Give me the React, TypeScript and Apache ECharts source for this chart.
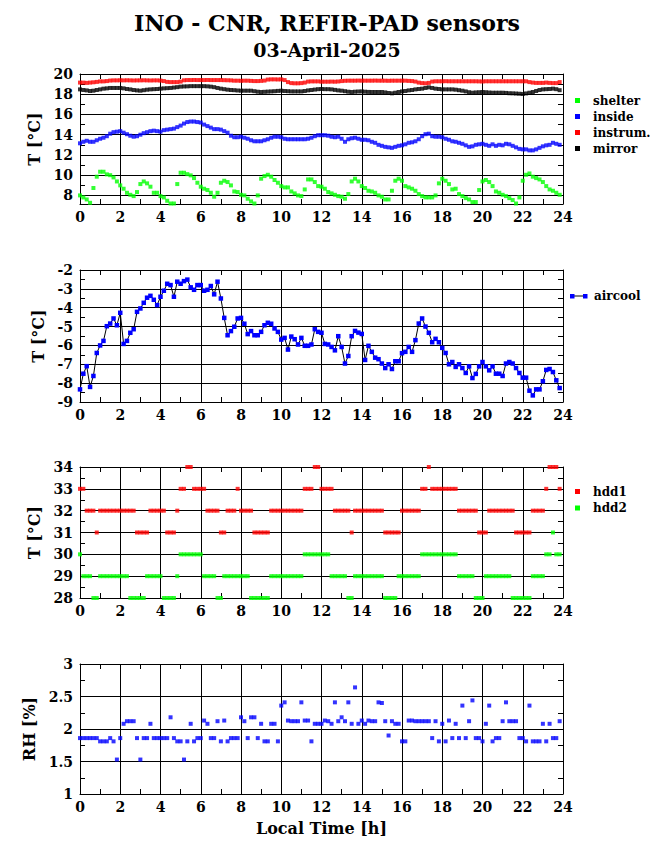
import React, { useEffect, useRef } from 'react';
import * as echarts from 'echarts';

// 10-minute sampling over the day (hours)
const HOURS: number[] = Array.from({ length: 144 }, (_, i) => i / 6);

const X_TICKS = [0, 2, 4, 6, 8, 10, 12, 14, 16, 18, 20, 22, 24];

// Panel 1: temperatures [°C]
const shelter = [
  8.0, 7.8, 7.6, 7.27, 8.73, 9.85, 10.34, 10.34, 10.08, 10.0,
  9.78, 9.38, 8.99, 8.66, 8.26, 8.06, 7.93, 8.33, 9.12, 9.38,
  9.19, 8.86, 8.26, 8.26, 7.93, 7.8, 7.47, 7.2, 7.2, 9.12,
  10.24, 10.24, 10.1, 9.98, 9.71, 9.25, 8.86, 8.66, 8.53, 8.26,
  7.87, 8.26, 9.25, 9.45, 9.32, 8.99, 8.39, 8.33, 8.06, 8.0,
  7.67, 7.41, 7.2, 8.0, 9.65, 9.91, 10.04, 9.85, 9.52, 9.25,
  8.92, 8.79, 8.79, 8.39, 8.2, 8.0, 7.93, 8.59, 9.58, 9.58,
  9.32, 8.92, 8.86, 8.66, 8.33, 8.2, 8.06, 7.93, 7.87, 7.67,
  8.13, 9.38, 9.65, 9.38, 8.92, 8.73, 8.46, 8.39, 8.26, 8.0,
  7.87, 7.6, 7.6, 8.46, 9.45, 9.65, 9.45, 8.92, 8.79, 8.66,
  8.46, 8.13, 7.93, 7.8, 7.8, 7.8, 8.0, 9.19, 9.65, 9.45,
  9.12, 8.59, 8.66, 8.13, 7.93, 7.73, 7.6, 7.34, 7.34, 8.53,
  9.38, 9.52, 9.32, 8.92, 8.39, 8.26, 8.06, 7.93, 7.73, 7.54,
  7.2, 7.8, 9.45, 10.04, 10.17, 9.85, 9.71, 9.58, 9.32, 8.92,
  8.59, 8.46, 8.26, 8.06,
];

const inside = [
  13.15, 13.3, 13.4, 13.3, 13.3, 13.45, 13.6, 13.7, 13.85, 14.1,
  14.25, 14.3, 14.35, 14.2, 14.05, 13.9, 13.8, 13.85, 14.0, 14.15,
  14.25, 14.35, 14.4, 14.35, 14.3, 14.45, 14.5, 14.55, 14.6, 14.75,
  14.9, 15.1, 15.25, 15.3, 15.3, 15.25, 15.2, 15.0, 14.85, 14.7,
  14.55, 14.55, 14.5, 14.35, 14.2, 13.9, 13.75, 13.75, 13.8, 13.7,
  13.6, 13.45, 13.35, 13.35, 13.35, 13.45, 13.55, 13.7, 13.8, 13.8,
  13.75, 13.6, 13.55, 13.55, 13.55, 13.55, 13.55, 13.55, 13.6, 13.7,
  13.85, 13.95, 13.95, 13.95, 13.9, 13.8, 13.75, 13.8, 13.6, 13.3,
  13.55, 13.65, 13.7, 13.6, 13.5, 13.5, 13.45, 13.3, 13.2, 13.0,
  12.9, 12.8, 12.75, 12.7, 12.8, 12.9, 12.95, 13.05, 13.2, 13.25,
  13.35, 13.55, 13.85, 14.05, 14.1, 13.85, 13.8, 13.8, 13.75, 13.6,
  13.5, 13.35, 13.3, 13.2, 13.1, 12.95, 12.8, 12.85, 13.0, 13.05,
  13.1, 13.0, 12.9, 13.05, 12.9, 13.0, 12.95, 13.1, 13.05, 12.9,
  12.75, 12.6, 12.55, 12.55, 12.45, 12.45, 12.55, 12.7, 12.85, 12.95,
  13.0, 13.2, 13.1, 13.0,
];

const instrum = [
  19.15, 19.15, 19.12, 19.15, 19.18, 19.22, 19.27, 19.27, 19.3, 19.35,
  19.37, 19.37, 19.38, 19.37, 19.38, 19.37, 19.36, 19.37, 19.37, 19.38,
  19.37, 19.36, 19.37, 19.37, 19.35, 19.3, 19.22, 19.2, 19.2, 19.2,
  19.25, 19.38, 19.4, 19.4, 19.41, 19.4, 19.4, 19.4, 19.41, 19.4,
  19.4, 19.4, 19.4, 19.39, 19.38, 19.37, 19.34, 19.34, 19.33, 19.34,
  19.34, 19.32, 19.3, 19.3, 19.32, 19.35, 19.45, 19.47, 19.47, 19.46,
  19.47, 19.4, 19.2, 19.1, 19.08, 19.08, 19.1, 19.15, 19.25, 19.27,
  19.27, 19.27, 19.24, 19.24, 19.24, 19.25, 19.24, 19.26, 19.3, 19.33,
  19.34, 19.34, 19.34, 19.35, 19.34, 19.34, 19.34, 19.34, 19.35, 19.34,
  19.34, 19.34, 19.33, 19.34, 19.34, 19.34, 19.34, 19.34, 19.32, 19.3,
  19.25, 19.15, 19.1, 19.08, 19.12, 19.25, 19.28, 19.28, 19.28, 19.29,
  19.28, 19.28, 19.28, 19.28, 19.28, 19.28, 19.28, 19.28, 19.28, 19.27,
  19.26, 19.28, 19.28, 19.28, 19.28, 19.28, 19.28, 19.28, 19.28, 19.28,
  19.28, 19.28, 19.28, 19.28, 19.2, 19.15, 19.12, 19.12, 19.12, 19.15,
  19.12, 19.1, 19.1, 19.2,
];

const mirror = [
  18.48, 18.42, 18.38, 18.32, 18.35, 18.42, 18.48, 18.55, 18.58, 18.62,
  18.62, 18.62, 18.62, 18.58, 18.52, 18.48, 18.42, 18.38, 18.35, 18.4,
  18.45, 18.48, 18.5, 18.52, 18.55, 18.58, 18.6, 18.62, 18.66, 18.7,
  18.75, 18.77, 18.78, 18.8, 18.8, 18.8, 18.8, 18.8, 18.78, 18.75,
  18.7, 18.62, 18.55, 18.5, 18.45, 18.42, 18.4, 18.37, 18.35, 18.35,
  18.35, 18.35, 18.3, 18.25, 18.22, 18.24, 18.26, 18.28, 18.3, 18.33,
  18.35, 18.32, 18.3, 18.28, 18.28, 18.28, 18.28, 18.32, 18.38, 18.42,
  18.46, 18.5, 18.52, 18.5, 18.5, 18.48, 18.43, 18.38, 18.35, 18.3,
  18.25, 18.22, 18.25, 18.27, 18.28, 18.25, 18.23, 18.22, 18.22, 18.22,
  18.22, 18.18, 18.12, 18.09, 18.15, 18.22, 18.28, 18.32, 18.38, 18.42,
  18.48, 18.52, 18.55, 18.62, 18.68, 18.62, 18.55, 18.52, 18.48, 18.48,
  18.48, 18.48, 18.45, 18.4, 18.35, 18.28, 18.2, 18.15, 18.18, 18.2,
  18.22, 18.2, 18.17, 18.15, 18.15, 18.15, 18.15, 18.13, 18.1, 18.09,
  18.07, 18.05, 18.02, 18.08, 18.15, 18.22, 18.32, 18.42, 18.48, 18.5,
  18.52, 18.55, 18.5, 18.4,
];

// Panel 2: aircool [°C]
const aircool = [
  -8.33, -7.5, -7.1, -8.2, -7.62, -6.4, -6.0, -5.76, -4.98, -4.84,
  -4.57, -4.93, -4.27, -5.92, -5.76, -5.33, -5.14, -4.22, -4.04, -3.74,
  -3.47, -3.37, -3.58, -3.86, -3.42, -3.1, -2.73, -2.8, -3.42, -2.62,
  -2.73, -2.59, -2.51, -2.92, -3.05, -2.8, -2.8, -3.1, -3.05, -2.85,
  -3.29, -2.62, -3.51, -4.54, -5.46, -5.24, -5.01, -4.57, -4.54, -4.85,
  -5.4, -5.24, -5.46, -5.46, -5.28, -4.93, -4.8, -4.85, -5.1, -5.28,
  -5.69, -5.6, -6.22, -5.53, -5.67, -5.95, -5.6, -6.02, -6.02, -5.95,
  -5.14, -5.28, -5.33, -5.92, -5.95, -6.08, -6.26, -5.51, -6.08, -6.96,
  -6.56, -5.51, -5.23, -5.32, -5.39, -6.77, -6.02, -6.34, -6.65, -6.73,
  -6.96, -7.2, -7.0, -7.25, -6.84, -6.84, -6.41, -6.34, -6.08, -6.34,
  -5.72, -4.84, -4.57, -5.0, -5.33, -5.83, -5.65, -5.83, -6.13, -6.4,
  -7.0, -6.88, -7.14, -7.0, -7.2, -7.46, -7.11, -7.73, -7.51, -7.11,
  -6.88, -7.11, -7.32, -7.11, -7.5, -7.5, -7.62, -6.96, -6.88, -6.96,
  -7.2, -7.46, -7.71, -7.71, -8.4, -8.65, -8.33, -8.33, -7.9, -7.3,
  -7.25, -7.41, -7.85, -8.26,
];

// Panel 3: disk temperatures [°C]
const hdd1 = [
  33, 33, 32, 32, 32, 31, 32, 32, 32, 32,
  32, 32, 32, 32, 32, 32, 32, 31, 31, 31,
  31, 32, 32, 32, 32, 32, 31, 31, 31, 32,
  33, 33, 34, 34, 33, 33, 33, 33, 32, 32,
  32, 32, 31, 31, 32, 32, 32, 33, 32, 32,
  32, 32, 31, 31, 31, 31, 31, 32, 32, 32,
  32, 32, 32, 32, 32, 32, 32, 33, 33, 33,
  34, 34, 33, 33, 33, 33, 32, 32, 32, 32,
  32, 31, 32, 32, 32, 32, 32, 32, 32, 32,
  32, 31, 31, 31, 31, 31, 32, 32, 32, 32,
  32, 32, 33, 33, 34, 33, 33, 33, 33, 33,
  33, 33, 33, 32, 32, 32, 32, 32, 32, 31,
  31, 31, 32, 32, 32, 32, 32, 32, 32, 32,
  31, 31, 31, 31, 31, 32, 32, 32, 32, 33,
  34, 34, 34, 33,
];

const hdd2 = [
  30, 29, 29, 29, 28, 28, 29, 29, 29, 29,
  29, 29, 29, 29, 29, 28, 28, 28, 28, 28,
  29, 29, 29, 29, 29, 28, 28, 28, 28, 29,
  30, 30, 30, 30, 30, 30, 30, 29, 29, 29,
  29, 28, 28, 29, 29, 29, 29, 29, 29, 29,
  29, 28, 28, 28, 28, 28, 28, 29, 29, 29,
  29, 29, 29, 29, 29, 29, 29, 30, 30, 30,
  30, 30, 30, 30, 30, 29, 29, 29, 29, 29,
  28, 28, 29, 29, 29, 29, 29, 29, 29, 29,
  29, 28, 28, 28, 28, 29, 29, 29, 29, 29,
  29, 29, 30, 30, 30, 30, 30, 30, 30, 30,
  30, 30, 30, 29, 29, 29, 29, 29, 28, 28,
  28, 29, 29, 29, 29, 29, 29, 29, 29, 28,
  28, 28, 28, 28, 28, 29, 29, 29, 29, 30,
  30, 31, 30, 30,
];

// Panel 4: relative humidity [%]
const rh = [
  1.86, 1.86, 1.86, 1.86, 1.86, 1.86, 1.81, 1.81, 1.81, 1.86,
  1.81, 1.53, 1.86, 2.08, 2.12, 2.12, 2.12, 1.86, 1.53, 1.86,
  1.86, 2.08, 1.86, 1.86, 1.86, 1.86, 1.86, 2.18, 1.86, 1.81,
  1.81, 1.53, 1.81, 2.08, 1.81, 1.86, 1.86, 2.13, 2.08, 1.86,
  1.86, 2.12, 1.81, 2.13, 1.81, 1.86, 1.86, 1.86, 2.18, 2.12,
  1.86, 2.18, 2.18, 1.86, 2.08, 1.81, 1.81, 2.08, 2.08, 1.81,
  2.36, 2.41, 2.13, 2.12, 2.12, 2.12, 2.41, 2.13, 2.13, 1.81,
  2.08, 2.08, 2.08, 2.13, 2.12, 2.08, 2.41, 2.12, 2.18, 2.12,
  2.41, 2.08, 2.64, 2.08, 2.13, 2.08, 2.13, 2.12, 2.12, 2.41,
  2.4, 2.12, 1.9, 2.12, 2.08, 2.08, 1.81, 1.81, 2.13, 2.13,
  2.12, 2.12, 2.12, 2.12, 2.12, 1.86, 2.12, 1.81, 2.08, 1.81,
  2.13, 1.86, 2.08, 1.86, 2.36, 1.86, 2.12, 2.44, 1.86, 1.86,
  1.81, 2.08, 2.36, 1.81, 1.86, 1.86, 2.12, 2.41, 2.12, 2.12,
  2.12, 1.86, 1.86, 1.81, 2.36, 1.81, 1.81, 1.81, 2.08, 1.81,
  2.08, 1.86, 1.86, 2.12,
];

const TITLE = 'INO - CNR, REFIR-PAD sensors';
const SUBTITLE = '03-April-2025';
const X_NAME = 'Local Time [h]';
const Y_NAMES = ['T [°C]', 'T [°C]', 'T [°C]', 'RH [%]'];
const LEGEND1 = ['shelter', 'inside', 'instrum.', 'mirror'];
const LEGEND2 = ['aircool'];
const LEGEND3 = ['hdd1', 'hdd2'];

const FONT = "'DejaVu Serif', serif";
const GREEN = '#00ff00';
const BLUE = '#0000ff';
const RED = '#ff0000';
const BLACK = '#000000';

const GRIDS = [
  { left: 80, top: 74, width: 483, height: 130 },
  { left: 80, top: 270, width: 483, height: 132 },
  { left: 80, top: 467, width: 483, height: 131 },
  { left: 80, top: 664, width: 483, height: 130 },
];

const Y_RANGES: any[] = [
  { min: 7.15, max: 20, minInterval: 2, maxInterval: 2, splitNumber: 6, nameGap: 33 },
  { min: -9, max: -2, interval: 1, nameGap: 30 },
  { min: 28, max: 34, interval: 1, nameGap: 33 },
  { min: 1, max: 3, interval: 0.5, nameGap: 38 },
];

function pts(vals: number[]) {
  return vals.map((v, i) => [HOURS[i], v]);
}

export default function App() {
  const ref = useRef<HTMLDivElement>(null);

  useEffect(() => {
    if (!ref.current) return;
    const chart = echarts.init(ref.current, undefined, { renderer: 'svg' });

    const line = { color: BLACK, width: 1 };
    const labelStyle = { color: BLACK, fontFamily: FONT, fontWeight: 'bold', fontSize: 14 };

    const xAxes: any[] = [];
    const yAxes: any[] = [];
    GRIDS.forEach((_, g) => {
      const baseX = {
        gridIndex: g,
        type: 'value',
        min: 0,
        max: 24,
        interval: 2,
        axisLine: { show: true, onZero: false, lineStyle: line },
        axisTick: { show: true, inside: true, length: 6, lineStyle: line },
        minorTick: { show: true, splitNumber: 2, length: 5, lineStyle: line },
      };
      xAxes.push({
        ...baseX,
        position: 'bottom',
        splitLine: { show: true, lineStyle: line },
        axisLabel: { ...labelStyle, margin: 6, customValues: X_TICKS },
        ...(g === 3
          ? {
              name: X_NAME,
              nameLocation: 'middle',
              nameGap: 26,
              nameTextStyle: { color: BLACK, fontFamily: FONT, fontWeight: 'bold', fontSize: 16 },
            }
          : {}),
      });
      xAxes.push({ ...baseX, position: 'top', splitLine: { show: false }, axisLabel: { show: false } });

      const r = Y_RANGES[g];
      const baseY: any = {
        gridIndex: g,
        type: 'value',
        min: r.min,
        max: r.max,
        axisLine: { show: true, onZero: false, lineStyle: line },
        axisTick: { show: true, inside: true, length: 6, lineStyle: line },
        minorTick: { show: true, splitNumber: 2, length: 5, lineStyle: line },
      };
      if (r.interval !== undefined) baseY.interval = r.interval;
      if (r.minInterval !== undefined) {
        baseY.minInterval = r.minInterval;
        baseY.maxInterval = r.maxInterval;
        baseY.splitNumber = r.splitNumber;
      }
      yAxes.push({
        ...baseY,
        position: 'left',
        splitLine: { show: true, lineStyle: line },
        axisLabel: { ...labelStyle, margin: 7, showMinLabel: g !== 0 ? true : false, showMaxLabel: true },
        name: Y_NAMES[g],
        nameLocation: 'middle',
        nameRotate: 90,
        nameGap: r.nameGap,
        nameTextStyle: { color: BLACK, fontFamily: FONT, fontWeight: 'bold', fontSize: 16 },
      });
      yAxes.push({ ...baseY, position: 'right', splitLine: { show: false }, axisLabel: { show: false } });
    });

    const scatter = (name: string, vals: number[], color: string, g: number, size = 4) => ({
      name,
      type: 'scatter',
      xAxisIndex: 2 * g,
      yAxisIndex: 2 * g,
      symbol: 'rect',
      symbolSize: size,
      itemStyle: { color },
      data: pts(vals),
    });

    const series: any[] = [
      scatter(LEGEND1[0], shelter, GREEN, 0),
      scatter(LEGEND1[1], inside, BLUE, 0),
      scatter(LEGEND1[2], instrum, RED, 0),
      scatter(LEGEND1[3], mirror, BLACK, 0),
      {
        name: LEGEND2[0],
        type: 'line',
        xAxisIndex: 2,
        yAxisIndex: 2,
        symbol: 'rect',
        symbolSize: 4.5,
        showSymbol: true,
        showAllSymbol: true,
        itemStyle: { color: BLUE },
        lineStyle: { color: BLACK, width: 1 },
        data: pts(aircool),
      },
      scatter(LEGEND3[0], hdd1, RED, 2),
      scatter(LEGEND3[1], hdd2, GREEN, 2),
      scatter('RH', rh, BLUE, 3),
    ];

    const legendFont = `bold 12px ${FONT}`;
    const elements: any[] = [];
    const legend1Colors = [GREEN, BLUE, RED, BLACK];
    LEGEND1.forEach((t, i) => {
      const cy = 100.5 + i * 16;
      elements.push({ type: 'rect', shape: { x: 575, y: cy - 2.5, width: 5, height: 5 }, style: { fill: legend1Colors[i] } });
      elements.push({ type: 'text', x: 593, y: cy, style: { text: t, font: legendFont, fill: BLACK, verticalAlign: 'middle' } });
    });
    elements.push({ type: 'line', shape: { x1: 572, y1: 296, x2: 585, y2: 296 }, style: { stroke: BLACK, lineWidth: 1 } });
    elements.push({ type: 'rect', shape: { x: 570, y: 294, width: 4.5, height: 4.5 }, style: { fill: BLUE } });
    elements.push({ type: 'rect', shape: { x: 583, y: 294, width: 4.5, height: 4.5 }, style: { fill: BLUE } });
    elements.push({ type: 'text', x: 594, y: 296, style: { text: LEGEND2[0], font: legendFont, fill: BLACK, verticalAlign: 'middle' } });
    const legend3Colors = [RED, GREEN];
    LEGEND3.forEach((t, i) => {
      const cy = 491.5 + i * 16.5;
      elements.push({ type: 'rect', shape: { x: 575, y: cy - 2.5, width: 5, height: 5 }, style: { fill: legend3Colors[i] } });
      elements.push({ type: 'text', x: 593, y: cy, style: { text: t, font: legendFont, fill: BLACK, verticalAlign: 'middle' } });
    });

    chart.setOption({
      animation: false,
      backgroundColor: '#ffffff',
      title: [
        {
          text: TITLE,
          left: 322,
          top: 7,
          textAlign: 'center',
          textStyle: { color: BLACK, fontFamily: FONT, fontWeight: 'bold', fontSize: 22 },
        },
        {
          text: SUBTITLE,
          left: 322,
          top: 35,
          textAlign: 'center',
          textStyle: { color: BLACK, fontFamily: FONT, fontWeight: 'bold', fontSize: 19 },
        },
      ],
      grid: GRIDS,
      xAxis: xAxes,
      yAxis: yAxes,
      series,
      graphic: { elements },
    });

    return () => chart.dispose();
  }, []);

  return (
    <div
      ref={ref}
      style={{ position: 'absolute', left: 0, top: 0, width: 655, height: 860, background: '#fff' }}
    />
  );
}
